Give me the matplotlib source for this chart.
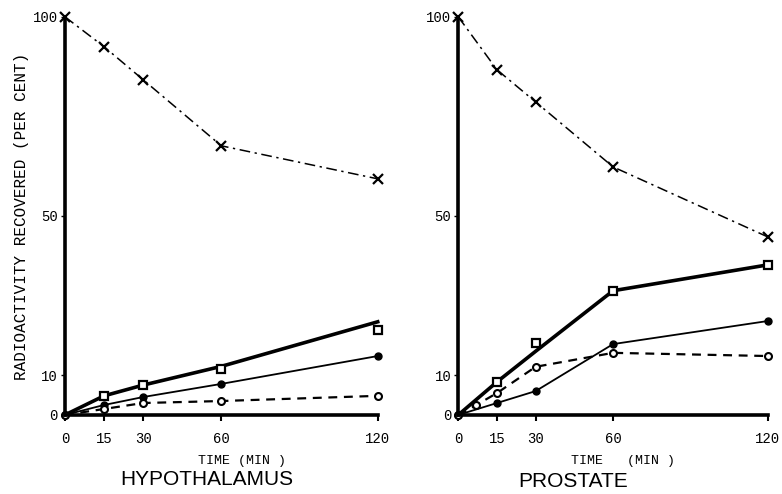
import numpy as np
import matplotlib
matplotlib.use("Agg")
import matplotlib.pyplot as plt

time_min = [0, 15, 30, 60, 120]

# hypothalamus
hyp_total = [100, 92.5, 84.2, 67.6, 59.3]
hyp_thick = [0, 4.8, 7.5, 12.2, 23.4]
hyp_square = [4.8, 7.5, 11.6, 21.4]
hyp_filled = [0, 2.5, 4.5, 7.8, 14.8]
hyp_open = [0, 1.5, 3.0, 3.5, 4.8]

# prostate
pro_total = [100, 86.7, 78.6, 62.3, 44.7]
pro_thick = [0, 8.3, 16.0, 31.2, 37.7]
pro_square = [8.3, 18.1, 31.2, 37.7]
pro_filled = [0, 3.0, 6.0, 17.8, 23.6]
pro_open_t = [0, 7, 15, 30, 60, 120]
pro_open = [0, 2.5, 5.5, 12.1, 15.6, 14.8]

x_ticks = [0, 15, 30, 60, 120]
y_ticks = [0, 10, 50, 100]

mono = "Liberation Mono"

fig = plt.figure(figsize=(7.82, 4.94), dpi=100)
ax1 = fig.add_axes([0.083, 0.160, 0.400, 0.806])
ax2 = fig.add_axes([0.586, 0.160, 0.396, 0.806])


def draw(ax, total, thick, square, filled, open_t, open_v):
    ax.plot(time_min, total, color="black", lw=1.1, ls=(0, (7, 3, 1.5, 3)),
            marker="x", ms=7, mew=1.6)
    ax.plot(time_min, thick, color="black", lw=2.6)
    ax.plot(time_min[1:], square, ls="none", marker="s", ms=5.5, mfc="white",
            mec="black", mew=1.6)
    ax.plot(time_min, filled, color="black", lw=1.3, marker="o", ms=5,
            mfc="black", mec="black")
    ax.plot(open_t, open_v, color="black", lw=1.6, ls=(0, (4, 3)),
            marker="o", ms=5, mfc="white", mec="black", mew=1.5)
    ax.set_xlim(0, 120)
    ax.set_ylim(0, 100)
    ax.set_xticks(x_ticks)
    ax.set_yticks(y_ticks)
    ax.set_xticklabels([str(t) for t in x_ticks], fontfamily=mono, fontsize=10)
    ax.set_yticklabels([str(t) for t in y_ticks], fontfamily=mono, fontsize=10)
    # the zero label sits a little above the axis line in the original
    ax.get_yticklabels()[0].set_y(2)
    for s in ["top", "right"]:
        ax.spines[s].set_visible(False)
    for s in ["left", "bottom"]:
        ax.spines[s].set_linewidth(2.6)
    ax.tick_params(axis="x", length=4, width=1.5, pad=8)
    ax.tick_params(axis="y", length=3, width=1.0, pad=2)
    for c in ax.collections + ax.lines:
        c.set_clip_on(False)


draw(ax1, hyp_total, hyp_thick, hyp_square, hyp_filled, time_min, hyp_open)
draw(ax2, pro_total, pro_thick, pro_square, pro_filled, pro_open_t, pro_open)

ax1.set_ylabel("RADIOACTIVITY RECOVERED (PER CENT)", fontfamily=mono,
               fontsize=11.5, labelpad=3)

fig.text(242 / 782, 1 - 461 / 494, "TIME (MIN )", fontfamily=mono, fontsize=9.5,
         ha="center", va="center")
fig.text(623 / 782, 1 - 461 / 494, "TIME   (MIN )", fontfamily=mono,
         fontsize=9.5, ha="center", va="center")
fig.text(207 / 782, 1 - 470 / 494, "HYPOTHALAMUS", fontfamily="Liberation Sans",
         fontsize=15, ha="center", va="top")
fig.text(573 / 782, 1 - 472 / 494, "PROSTATE", fontfamily="Liberation Sans",
         fontsize=15, ha="center", va="top")

fig.savefig("out.png", dpi=100)
